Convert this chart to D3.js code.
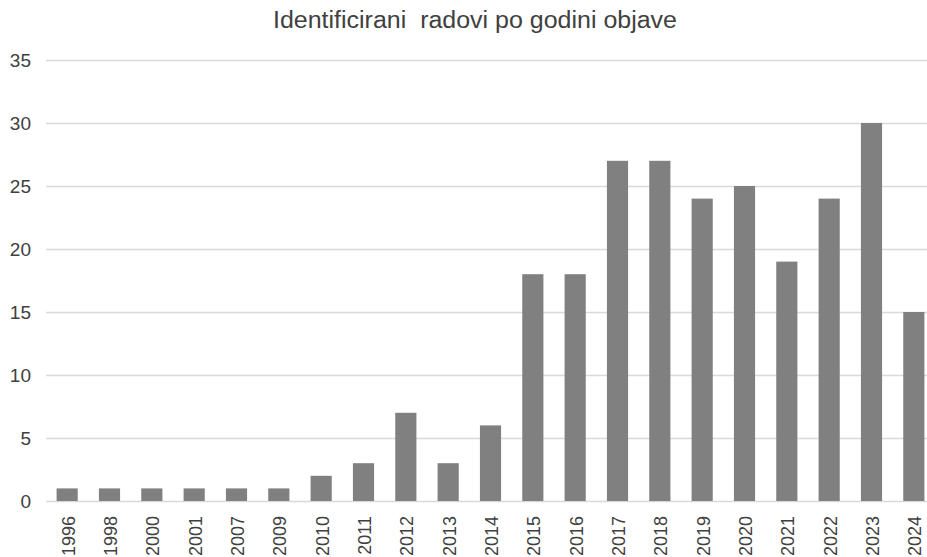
<!DOCTYPE html>
<html>
<head>
<meta charset="utf-8">
<script src="https://cdn.jsdelivr.net/npm/d3@7"></script>
<style>
  html, body { margin: 0; padding: 0; background: #fff; overflow: hidden; }
  svg { display: block; }
  text { font-family: "Liberation Sans", Arial, sans-serif; fill: #404040; }
</style>
</head>
<body>
<svg id="chart" width="927" height="557"></svg>
<script>
const title = "Identificirani  radovi po godini objave";
const years = ["1996","1998","2000","2001","2007","2009","2010","2011","2012","2013","2014","2015","2016","2017","2018","2019","2020","2021","2022","2023","2024"];
const counts = [1,1,1,1,1,1,2,3,7,3,6,18,18,27,27,24,25,19,24,30,15];
const yTicks = [0,5,10,15,20,25,30,35];

const svg = d3.select("#chart");
const plotLeft = 46, plotRight = 935, plotTop = 60, plotBottom = 501;

const x = d3.scaleBand().domain(years).range([plotLeft, plotRight]).paddingInner(0.5).paddingOuter(0.25);
const y = d3.scaleLinear().domain([0, 35]).range([plotBottom, plotTop]);

// gridlines
svg.append("g")
  .selectAll("line")
  .data(yTicks)
  .join("line")
  .attr("x1", plotLeft).attr("x2", 927)
  .attr("y1", d => Math.round(y(d)) + 0.5).attr("y2", d => Math.round(y(d)) + 0.5)
  .attr("stroke", "#d9d9d9")
  .attr("stroke-width", 1.3);

// y labels
svg.append("g")
  .selectAll("text")
  .data(yTicks)
  .join("text")
  .attr("x", 31)
  .attr("y", d => y(d))
  .attr("dy", "0.36em")
  .attr("text-anchor", "end")
  .style("font-size", "19px")
  .text(d => d);

// bars
svg.append("g")
  .selectAll("rect")
  .data(years.map((yr, i) => ({yr, v: counts[i]})))
  .join("rect")
  .attr("x", d => x(d.yr))
  .attr("width", x.bandwidth())
  .attr("y", d => y(d.v))
  .attr("height", d => y(0) - y(d.v))
  .attr("fill", "#808080");

// x labels
svg.append("g")
  .selectAll("text")
  .data(years)
  .join("text")
  .attr("transform", d => `translate(${x(d) + x.bandwidth() / 2 + 1},516) rotate(-90)`)
  .attr("dy", "0.36em")
  .attr("text-anchor", "end")
  .style("font-size", "18px")
  .text(d => d);

// title
svg.append("text")
  .attr("x", 475)
  .attr("y", 28)
  .attr("text-anchor", "middle")
  .attr("textLength", 404)
  .attr("lengthAdjust", "spacingAndGlyphs")
  .style("white-space", "pre")
  .style("font-size", "23px")
  .text(title);
</script>
</body>
</html>
